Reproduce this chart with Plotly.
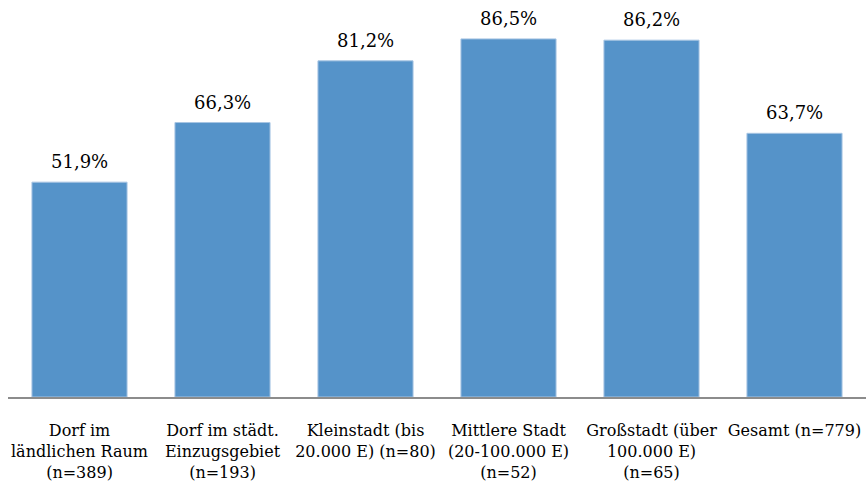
import plotly.graph_objects as go

categories = [
    "Dorf im<br>ländlichen Raum<br>(n=389)",
    "Dorf im städt.<br>Einzugsgebiet<br>(n=193)",
    "Kleinstadt (bis<br>20.000 E) (n=80)",
    "Mittlere Stadt<br>(20-100.000 E)<br>(n=52)",
    "Großstadt (über<br>100.000 E)<br>(n=65)",
    "Gesamt (n=779)",
]
values = [51.9, 66.3, 81.2, 86.5, 86.2, 63.7]
value_labels = [f"{v:.1f}%".replace(".", ",") for v in values]

FONT = "DejaVu Serif"

fig = go.Figure(
    go.Bar(
        x=categories,
        y=values,
        width=0.665,
        marker=dict(color="#5593C9", line=dict(color="#A8C5E3", width=1)),
        hoverinfo="skip",
    )
)

for cat, v, lab in zip(categories, values, value_labels):
    fig.add_annotation(
        x=cat, y=v, text=lab, showarrow=False,
        yanchor="bottom", yshift=8,
        font=dict(family=FONT, size=18, color="#000000"),
    )

fig.update_layout(
    width=866, height=485,
    margin=dict(l=8, r=0, t=0, b=88),
    paper_bgcolor="white", plot_bgcolor="white",
    showlegend=False,
    font=dict(family=FONT, size=16, color="#000000"),
)
fig.update_xaxes(
    showline=True, linecolor="#8C8C8C", linewidth=2,
    ticks="", ticklabelstandoff=18,
    tickfont=dict(family=FONT, size=16, color="#000000"),
)
fig.update_yaxes(range=[0, 95.9], visible=False, showgrid=False)

fig.write_html("out.html")
